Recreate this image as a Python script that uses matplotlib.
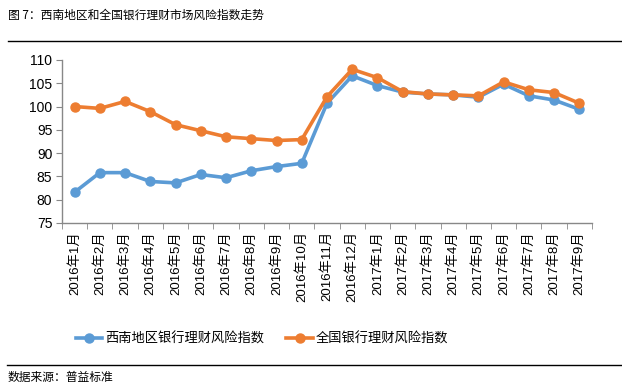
import matplotlib
matplotlib.use("Agg")
import matplotlib.pyplot as plt
from matplotlib.lines import Line2D
from matplotlib.ticker import FixedLocator

plt.rcParams['font.family'] = ['Liberation Sans', 'Noto Sans CJK SC', 'DejaVu Sans']

months = ["2016年1月", "2016年2月", "2016年3月", "2016年4月", "2016年5月", "2016年6月",
          "2016年7月", "2016年8月", "2016年9月", "2016年10月", "2016年11月", "2016年12月",
          "2017年1月", "2017年2月", "2017年3月", "2017年4月", "2017年5月", "2017年6月",
          "2017年7月", "2017年8月", "2017年9月"]
southwest = [81.6, 85.8, 85.8, 83.9, 83.6, 85.4, 84.7, 86.2, 87.1, 87.8, 100.7, 106.6,
             104.5, 103.1, 102.7, 102.5, 102.0, 104.8, 102.3, 101.4, 99.4]
national = [100.0, 99.6, 101.1, 98.9, 96.1, 94.8, 93.5, 93.1, 92.7, 92.9, 102.1, 108.0,
            106.2, 103.2, 102.7, 102.5, 102.3, 105.3, 103.6, 103.0, 100.7]
series_names = ["西南地区银行理财风险指数", "全国银行理财风险指数"]
yticks = [75, 80, 85, 90, 95, 100, 105, 110]

blue = "#5B9BD5"
orange = "#ED7D31"

fig = plt.figure(figsize=(6.22, 3.87), dpi=100)
ax = fig.add_axes([0.0997, 0.424, 0.852, 0.421])

x = list(range(len(months)))
ax.plot(x, southwest, color=blue, lw=2.6, marker='o', ms=6.5, zorder=3)
ax.plot(x, national, color=orange, lw=2.6, marker='o', ms=6.5, zorder=4)

ax.set_xlim(-0.5, len(months) - 0.5)
ax.set_ylim(75, 110)
ax.set_yticks(yticks)
ax.set_xticks(x)
ax.set_xticklabels(months, rotation=90, fontsize=9.5,
                   family=['Liberation Sans', 'Noto Sans CJK SC'])
ax.xaxis.set_minor_locator(FixedLocator([i - 0.5 for i in range(len(months) + 1)]))
ax.tick_params(axis='x', which='major', length=0, pad=6)
ax.tick_params(axis='x', which='minor', length=4, color='#888888', direction='out')
ax.tick_params(axis='y', length=4, color='#888888', labelsize=10, pad=3)

for s in ['top', 'right']:
    ax.spines[s].set_visible(False)
for s in ['left', 'bottom']:
    ax.spines[s].set_color('#888888')
    ax.spines[s].set_linewidth(1)

handles = [Line2D([0], [0], color=blue, lw=2.6, marker='o', ms=6.5),
           Line2D([0], [0], color=orange, lw=2.6, marker='o', ms=6.5)]
fig.legend(handles, series_names, loc='center', bbox_to_anchor=(262 / 622, 1 - 339 / 387),
           ncol=2, frameon=False, handlelength=2.0, handletextpad=0.2,
           columnspacing=1.7, prop={'family': ['Noto Sans CJK SC'], 'size': 9.5})

fig.text(8 / 622, 1 - 15 / 387, "图 7：西南地区和全国银行理财市场风险指数走势",
         fontsize=8.5, family=['Noto Sans CJK SC'], va='center', ha='left')
fig.text(8 / 622, 1 - 377 / 387, "数据来源：普益标准",
         fontsize=8.5, family=['Noto Sans CJK SC'], va='center', ha='left')

fig.add_artist(Line2D([8 / 622, 1], [1 - 41 / 387] * 2, color='black', lw=1))
fig.add_artist(Line2D([7 / 622, 1], [1 - 365 / 387] * 2, color='black', lw=1))

fig.savefig("out.png", dpi=100)
